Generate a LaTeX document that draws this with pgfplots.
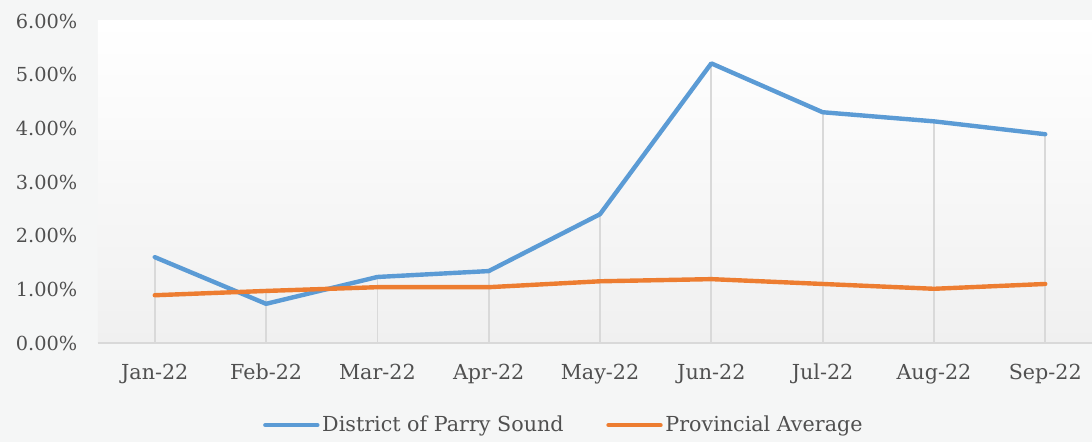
\documentclass[border=0pt]{standalone}
\usepackage{pgfplots}
\pgfplotsset{compat=1.18}
\usepackage{fontspec}
\setmainfont{DejaVu Serif}
\definecolor{txt}{RGB}{80,80,80}
\definecolor{bg}{RGB}{245,246,246}
\definecolor{plotbot}{RGB}{240,240,240}
\definecolor{dl}{RGB}{217,217,217}
\definecolor{blueS}{RGB}{91,155,213}
\definecolor{orangeS}{RGB}{237,125,49}
\pgfdeclarelayer{bglayer}
\pgfsetlayers{bglayer,main}
\begin{document}
\begin{tikzpicture}
\begin{pgfonlayer}{bglayer}
\fill[bg] (0,0) rectangle (819pt,331.5pt);
\end{pgfonlayer}
\useasboundingbox (0,0) rectangle (819pt,331.5pt);
\begin{axis}[
  at={(73.5pt,74.25pt)}, anchor=south west,
  scale only axis, width=745.5pt, height=241.5pt,
  xmin=-0.51, xmax=8.42, ymin=0, ymax=6,
  axis background/.style={top color=white, bottom color=plotbot},
  axis line style={draw=none},
  xtick={0,...,8},
  xticklabels={Jan-22,Feb-22,Mar-22,Apr-22,May-22,Jun-22,Jul-22,Aug-22,Sep-22},
  ytick={0,1,...,6},
  yticklabel={\pgfmathprintnumber[fixed,fixed zerofill,precision=2]{\tick}\%},
  /pgf/number format/assume math mode=true,
  major tick length=0pt,
  xticklabel style={font=\fontsize{15.5}{18}\selectfont, text=txt, yshift=-12pt},
  yticklabel style={font=\fontsize{14.5}{17}\selectfont, text=txt, xshift=-12pt},
  legend style={at={(0.469,-0.255)}, anchor=center, draw=none, fill=none,
    legend columns=2, font=\fontsize{15.5}{18}\selectfont, text=txt,
    /tikz/every even column/.append style={column sep=30pt},
    nodes={inner xsep=2pt}},
  legend cell align=left,
  legend image code/.code={\draw[#1,line width=3.3pt,line cap=round] (0pt,0pt) -- (39pt,0pt);},
  clip=false,
]
\addplot[ycomb, dl, line width=1.3pt, forget plot] coordinates {
(0,1.60) (1,0.97) (2,1.23) (3,1.34) (4,2.40) (5,5.21) (6,4.30) (7,4.13) (8,3.89)};
\draw[dl, line width=1.5pt] (axis cs:-0.51,0) -- (axis cs:8.42,0);
\addplot[blueS, line width=3.3pt, line join=round, line cap=round] coordinates {
(0,1.60) (1,0.73) (2,1.23) (3,1.34) (4,2.40) (5,5.21) (6,4.30) (7,4.13) (8,3.89)};
\addlegendentry{District of Parry Sound}
\addplot[orangeS, line width=3.3pt, line join=round, line cap=round] coordinates {
(0,0.89) (1,0.97) (2,1.04) (3,1.04) (4,1.15) (5,1.19) (6,1.10) (7,1.01) (8,1.10)};
\addlegendentry{Provincial Average}
\end{axis}
\end{tikzpicture}
\end{document}
